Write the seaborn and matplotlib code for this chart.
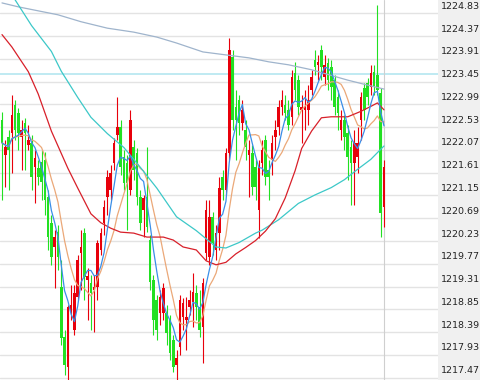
import numpy as np
import pandas as pd
import matplotlib
matplotlib.use("Agg")
import matplotlib.pyplot as plt
from matplotlib.transforms import ScaledTranslation
import seaborn as sns

# ---------------- data ----------------
opens = [1222.68, 1221.97, 1222.33, 1222.41, 1222.98, 1222.82, 1222.33, 1222.62, 1222.17, 1222.21,
         1221.73, 1221.71, 1221.83, 1221.87, 1221.12, 1220.60, 1220.11, 1220.41, 1219.30, 1218.29,
         1217.69, 1218.80, 1218.43, 1219.10, 1219.99, 1220.39, 1219.44, 1219.38, 1219.24, 1219.30,
         1220.05, 1220.60, 1221.12, 1221.26, 1221.81, 1222.37, 1222.54, 1221.93, 1221.81, 1221.26,
         1222.13, 1222.01, 1221.12, 1220.86, 1221.12, 1220.25, 1219.44, 1219.04, 1218.78, 1218.78,
         1218.78, 1218.64, 1218.23, 1217.73, 1218.09, 1218.70, 1218.64, 1218.90, 1219.00, 1219.18,
         1218.90, 1218.49, 1219.99, 1219.91, 1220.72, 1220.05, 1220.39, 1221.53, 1221.26, 1222.01,
         1223.95, 1222.94, 1223.08, 1222.62, 1222.47, 1221.97, 1222.01, 1221.73, 1220.86, 1221.81,
         1222.27, 1221.67, 1221.87, 1222.33, 1222.54, 1222.94, 1222.98, 1222.88, 1222.74, 1223.63,
         1223.48, 1222.88, 1222.88, 1222.88, 1223.28, 1223.89, 1223.79, 1224.09, 1223.54, 1223.83,
         1223.75, 1223.48, 1223.14, 1222.47, 1222.68, 1222.41, 1222.13, 1221.81, 1221.93, 1222.68,
         1223.32, 1223.42, 1223.34, 1223.65, 1223.59, 1223.22, 1220.92]
closes = [1222.21, 1222.13, 1222.07, 1222.78, 1222.47, 1222.41, 1222.47, 1222.41, 1222.27, 1221.53,
          1221.91, 1221.53, 1221.42, 1221.06, 1220.31, 1219.91, 1220.31, 1219.91, 1218.27, 1217.73,
          1218.90, 1218.94, 1219.18, 1219.85, 1220.11, 1219.51, 1219.53, 1219.18, 1219.30, 1220.19,
          1220.39, 1220.92, 1221.53, 1221.61, 1222.21, 1222.54, 1221.73, 1221.40, 1221.40, 1222.68,
          1221.67, 1221.12, 1220.60, 1221.10, 1220.52, 1219.40, 1218.64, 1218.43, 1219.10, 1219.28,
          1218.37, 1217.97, 1217.69, 1217.87, 1219.04, 1218.98, 1218.70, 1219.04, 1219.20, 1218.90,
          1218.43, 1219.38, 1220.86, 1220.72, 1220.19, 1220.39, 1221.30, 1221.26, 1222.01, 1224.09,
          1222.68, 1222.68, 1222.62, 1222.88, 1222.13, 1222.07, 1221.32, 1221.32, 1221.73, 1222.07,
          1221.53, 1221.53, 1222.21, 1222.47, 1222.94, 1223.08, 1222.82, 1222.58, 1223.54, 1223.28,
          1222.94, 1222.94, 1222.94, 1223.08, 1223.54, 1223.75, 1223.85, 1223.75, 1223.79, 1223.48,
          1223.34, 1222.94, 1222.82, 1222.68, 1222.33, 1221.93, 1221.81, 1222.21, 1222.21, 1223.14,
          1222.88, 1223.14, 1223.63, 1223.34, 1223.28, 1220.80, 1221.73]
highs = [1222.84, 1222.27, 1222.47, 1223.18, 1223.08, 1222.92, 1222.68, 1222.72, 1222.58, 1222.37,
         1222.07, 1221.87, 1222.07, 1222.03, 1221.26, 1220.76, 1220.45, 1220.56, 1219.85, 1218.43,
         1218.94, 1219.34, 1219.34, 1219.95, 1220.45, 1220.49, 1219.69, 1219.55, 1219.55, 1220.25,
         1220.49, 1221.06, 1221.67, 1221.77, 1222.31, 1223.14, 1222.68, 1222.07, 1221.97, 1222.88,
         1222.27, 1222.11, 1221.26, 1221.16, 1222.13, 1220.35, 1219.55, 1219.14, 1219.24, 1219.38,
         1218.94, 1218.74, 1218.33, 1218.03, 1219.14, 1219.08, 1219.10, 1219.24, 1219.59, 1219.34,
         1219.24, 1219.48, 1221.06, 1221.06, 1220.82, 1220.56, 1221.53, 1221.67, 1222.11, 1224.33,
         1224.09, 1223.28, 1223.18, 1223.08, 1222.68, 1222.27, 1222.17, 1221.87, 1221.87, 1222.27,
         1222.37, 1221.87, 1222.37, 1222.68, 1223.08, 1223.28, 1223.18, 1223.08, 1223.69, 1223.85,
         1223.59, 1223.18, 1223.28, 1223.38, 1223.69, 1224.09, 1223.99, 1224.19, 1223.99, 1223.93,
         1223.89, 1223.59, 1223.28, 1222.88, 1222.78, 1222.58, 1222.27, 1222.47, 1222.54, 1223.24,
         1223.42, 1223.52, 1223.79, 1223.79, 1225.00, 1223.32, 1221.87]
lows = [1221.06, 1221.32, 1221.26, 1221.61, 1222.27, 1222.07, 1221.67, 1221.67, 1222.07, 1221.26,
        1221.00, 1221.36, 1221.06, 1220.76, 1220.05, 1219.75, 1219.28, 1219.65, 1218.13, 1217.52,
        1217.42, 1218.64, 1218.33, 1219.04, 1219.24, 1219.04, 1218.64, 1218.43, 1218.39, 1219.04,
        1219.95, 1220.35, 1220.76, 1221.06, 1221.67, 1222.27, 1221.57, 1221.26, 1220.45, 1221.16,
        1221.46, 1220.96, 1220.45, 1220.31, 1220.41, 1219.24, 1218.33, 1218.23, 1218.53, 1218.64,
        1218.13, 1217.83, 1217.59, 1217.42, 1217.93, 1218.43, 1218.03, 1218.74, 1218.49, 1218.64,
        1218.29, 1217.77, 1219.85, 1219.75, 1219.95, 1219.85, 1220.05, 1221.06, 1221.16, 1221.87,
        1222.47, 1221.87, 1222.37, 1222.47, 1221.87, 1221.12, 1221.16, 1221.06, 1220.29, 1221.57,
        1221.36, 1221.06, 1221.57, 1222.07, 1222.37, 1222.78, 1222.68, 1222.47, 1222.58, 1223.08,
        1222.78, 1222.21, 1222.47, 1222.58, 1223.18, 1223.59, 1223.48, 1223.48, 1223.38, 1223.28,
        1223.08, 1222.78, 1222.47, 1222.27, 1222.07, 1221.46, 1220.96, 1220.96, 1221.61, 1222.27,
        1222.68, 1222.98, 1223.18, 1223.18, 1223.18, 1220.31, 1220.52]

# slower moving averages, read at selected candles
ma_red_idx = [0, 3, 8, 11, 15, 20, 23, 27, 30, 33, 36, 40, 44, 49, 52, 55, 59, 62, 65, 68,
              71, 74, 77, 80, 83, 86, 89, 91, 94, 97, 100, 105, 109, 112, 114, 116]
ma_red_val = [1224.40, 1224.15, 1223.65, 1223.20, 1222.45, 1221.70, 1221.30, 1220.78, 1220.60, 1220.49,
              1220.41, 1220.39, 1220.31, 1220.31, 1220.25, 1220.11, 1220.05, 1219.83, 1219.75, 1219.80,
              1219.97, 1220.10, 1220.24, 1220.43, 1220.68, 1221.10, 1221.65, 1222.10, 1222.45, 1222.72,
              1222.74, 1222.74, 1222.85, 1222.95, 1223.02, 1222.88]
ma_cyan_idx = [0, 4, 9, 15, 18, 23, 27, 32, 37, 42, 47, 53, 59, 65, 68, 72, 77, 79, 84, 90,
               95, 100, 104, 108, 112, 116]
ma_cyan_val = [1225.45, 1225.10, 1224.58, 1224.06, 1223.66, 1223.13, 1222.73, 1222.40, 1222.12, 1221.72,
               1221.30, 1220.72, 1220.44, 1220.11, 1220.09, 1220.20, 1220.39, 1220.45, 1220.66, 1220.99,
               1221.16, 1221.31, 1221.47, 1221.68, 1221.88, 1222.15]
ma_slate_idx = [0, 5, 17, 24, 32, 40, 47, 53, 61, 68, 75, 81, 87, 94, 105, 111, 116]
ma_slate_val = [1225.04, 1224.96, 1224.80, 1224.66, 1224.53, 1224.45, 1224.35, 1224.23, 1224.05, 1223.99,
                1223.93, 1223.85, 1223.79, 1223.69, 1223.48, 1223.38, 1223.30]

ref_level = 1223.61
tick_labels = ["1224.83", "1224.37", "1223.91", "1223.45", "1222.99", "1222.53", "1222.07",
               "1221.61", "1221.15", "1220.69", "1220.23", "1219.77", "1219.31", "1218.85",
               "1218.39", "1217.93", "1217.47"]

# ---------------- drawing ----------------
sns.set_theme(style="white")
plt.rcParams['font.family'] = ['DejaVu Sans']

fig = plt.figure(figsize=(4.8, 3.8), dpi=100)
fig.patch.set_facecolor('white')

side = fig.add_axes([438 / 480, 0, 42 / 480, 1])
side.set_facecolor('#f0f0f0')
side.set_xticks([]); side.set_yticks([])
for s in side.spines.values():
    s.set_visible(False)

ax = fig.add_axes([0, 0, 438 / 480, 1])
ax.set_facecolor('white')
for s in ax.spines.values():
    s.set_visible(False)

o = np.array(opens); c = np.array(closes); h = np.array(highs); l = np.array(lows)
idx = np.arange(len(c))
RED = '#e8000b'
GREEN = '#22e022'
cols = np.where(c >= o, RED, GREEN)

ax.axhline(ref_level, color='#b4e6f0', lw=1.2, zorder=1)
ax.vlines(idx, l, h, colors=cols, lw=0.8, zorder=2)
bottoms = np.minimum(o, c)
heights = np.maximum(np.abs(c - o), 0.025)
ax.bar(idx, heights, bottom=bottoms, width=0.78, color=cols, linewidth=0, zorder=2)

cs = pd.Series(c)
df = pd.DataFrame({'i': idx,
                   'ma5': cs.rolling(5, min_periods=1).mean(),
                   'ma10': cs.rolling(10, min_periods=1).mean()})
sns.lineplot(data=df, x='i', y='ma10', ax=ax, color='#eba878', lw=0.9, zorder=3)
sns.lineplot(data=df, x='i', y='ma5', ax=ax, color='#3a8ee8', lw=0.9, zorder=4)
sns.lineplot(x=ma_slate_idx, y=ma_slate_val, ax=ax, color='#9fb4cc', lw=0.9, zorder=3)
sns.lineplot(x=ma_cyan_idx, y=ma_cyan_val, ax=ax, color='#3cc8c8', lw=0.9, zorder=3)
sns.lineplot(x=ma_red_idx, y=ma_red_val, ax=ax, color='#d8202a', lw=0.9, zorder=3)

ax.axvline(idx[-1], color='#cfcfcf', lw=0.8, zorder=1)

ax.set_xlim(-0.607, 132.4)
ax.set_ylim(1217.423, 1225.099)
ax.set_xticks([])
ax.set_xlabel(''); ax.set_ylabel('')
tick_vals = [float(t) for t in tick_labels]
ax.yaxis.tick_right()
ax.set_yticks(tick_vals)
ax.set_yticklabels(tick_labels)
ax.tick_params(axis='y', length=0, pad=2.3, labelsize=6.8, colors='#222222')
ax.grid(axis='y', color='#e3e3e3', lw=1.0)
ax.grid(axis='x', visible=False)
ax.set_axisbelow(True)
off = ScaledTranslation(0, 8 / 100, fig.dpi_scale_trans)
for lab in ax.get_yticklabels():
    lab.set_transform(lab.get_transform() + off)

fig.savefig('out.png', dpi=100, facecolor='white')
